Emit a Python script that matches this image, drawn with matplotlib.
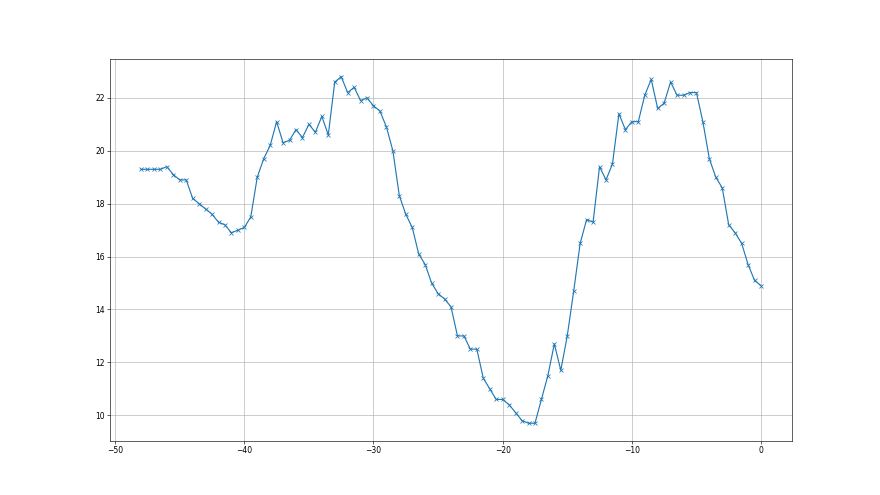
import matplotlib
matplotlib.use("Agg")
import matplotlib.pyplot as plt
import numpy as np

# time offsets, half-unit steps from -48 to 0
x_start = -48.0
x_step = 0.5

values = [
    19.3, 19.3, 19.3, 19.3, 19.4, 19.1, 18.9, 18.9, 18.2, 18.0,
    17.8, 17.6, 17.3, 17.2, 16.9, 17.0, 17.1, 17.5, 19.0, 19.7,
    20.2, 21.1, 20.3, 20.4, 20.8, 20.5, 21.0, 20.7, 21.3, 20.6,
    22.6, 22.8, 22.2, 22.4, 21.9, 22.0, 21.7, 21.5, 20.9, 20.0,
    18.3, 17.6, 17.1, 16.1, 15.7, 15.0, 14.6, 14.4, 14.1, 13.0,
    13.0, 12.5, 12.5, 11.4, 11.0, 10.6, 10.6, 10.4, 10.1, 9.8,
    9.7, 9.7, 10.6, 11.5, 12.7, 11.7, 13.0, 14.7, 16.5, 17.4,
    17.3, 19.4, 18.9, 19.5, 21.4, 20.8, 21.1, 21.1, 22.1, 22.7,
    21.6, 21.8, 22.6, 22.1, 22.1, 22.2, 22.2, 21.1, 19.7, 19.0,
    18.6, 17.2, 16.9, 16.5, 15.7, 15.1, 14.9,
]

x = x_start + x_step * np.arange(len(values))

fig, ax = plt.subplots(figsize=(16, 9), dpi=55)
ax.plot(x, values, marker="x", color="#1f77b4")
ax.grid(True)

fig.savefig("out.png", dpi=55)
